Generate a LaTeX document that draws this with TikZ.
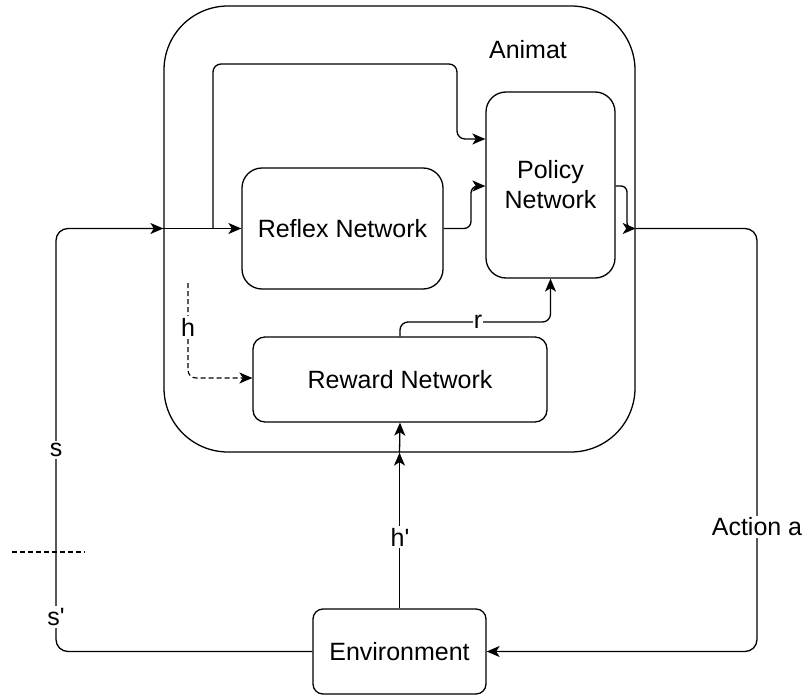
\documentclass[tikz,border=0pt]{standalone}
\usepackage{fontspec}
\setmainfont{Liberation Sans}[Ligatures=TeXOff]
\usetikzlibrary{arrows.meta}

\tikzset{
  box/.style={draw, line width=1.3pt, rounded corners=20pt, align=center,
    inner sep=0pt, font=\fontsize{25}{30}\selectfont},
  tip/.style={-{Stealth[length=13pt,width=11pt,inset=3.5pt]}},
  wire/.style={line width=1.3pt, rounded corners=8pt},
  arr/.style={wire, tip},
  lbl/.style={fill=white, inner sep=2pt, font=\fontsize{25}{30}\selectfont},
  dashwire/.style={line width=1.1pt, dash pattern=on 5pt off 3pt}
}

\begin{document}
\begin{tikzpicture}[x=1pt,y=-1pt]
\useasboundingbox (0,0) rectangle (811,695);

% outer agent boundary
\node[box, rounded corners=64pt, minimum width=471pt, minimum height=446pt] (animat) at (399.5,229) {};
\node[lbl, fill=none] (animatlbl) at (528,50) {Animat};

% inner blocks
\node[box, minimum width=129pt, minimum height=186pt] (policy) at (550.5,185) {Policy\\Network};
\node[box, minimum width=201pt, minimum height=121pt] (reflex) at (342.5,228.5) {Reflex Network};
\node[box, rounded corners=12pt, minimum width=294pt, minimum height=85pt] (reward) at (400,379.5) {Reward Network};
\node[box, rounded corners=10pt, minimum width=173pt, minimum height=85pt] (env) at (399.5,651.5) {Environment};

% points on the boundary and bends
\coordinate (inL) at (animat.west |- reflex.west);
\coordinate (outR) at (animat.east |- reflex.west);
\coordinate (hin) at (animat.south -| env.north);
\coordinate (split) at (213,228.5);
\coordinate (htop) at (188,283);

% state s' -> s entering the agent
\draw[arr, rounded corners=12pt] (env.west) -- (56,651.5) -- (56,228.5) -- (inL);
\draw[arr] (inL) -- (reflex.west);
\node[lbl] (slbl) at (56,450) {s};
\node[lbl] (sprime) at (56,617) {s'};
\draw[dashwire] (12,552) -- (85,552);

% state bypass into the policy
\draw[arr] (split) -- (213,64) -- (457,64) -- (457,139) -- (policy.west |- 0,139);

% reflex output into the policy
\draw[arr, rounded corners=7pt] (reflex.east) -- (471,228.5) -- (471,186) -- (policy.west |- 0,186);

% policy output leaving the agent
\draw[arr, rounded corners=6pt] (policy.east |- 0,186) -- (627,186) -- (627,228.5) -- (outR);
\draw[arr, rounded corners=12pt] (outR) -- (757,228.5) -- (757,651.5) -- (env.east);
\node[lbl] (actlbl) at (757,527) {Action a};

% homeostatic signal h'
\draw[arr] (env.north) -- (hin);
\draw[arr] (hin) -- (reward.south);
\node[lbl] (hplbl) at (400,537) {h'};

% reward r into the policy
\draw[arr] (reward.north) -- (400,322) -- (policy.south |- 0,322) -- (policy.south);
\node[lbl, inner sep=1pt] (rlbl) at (478,322) {r};

% internal state h
\draw[dashwire, rounded corners=8pt, tip] (htop) -- (188,378) -- (reward.west |- 0,378);
\node[lbl] (hlbl) at (188,327) {h};
\end{tikzpicture}
\end{document}
